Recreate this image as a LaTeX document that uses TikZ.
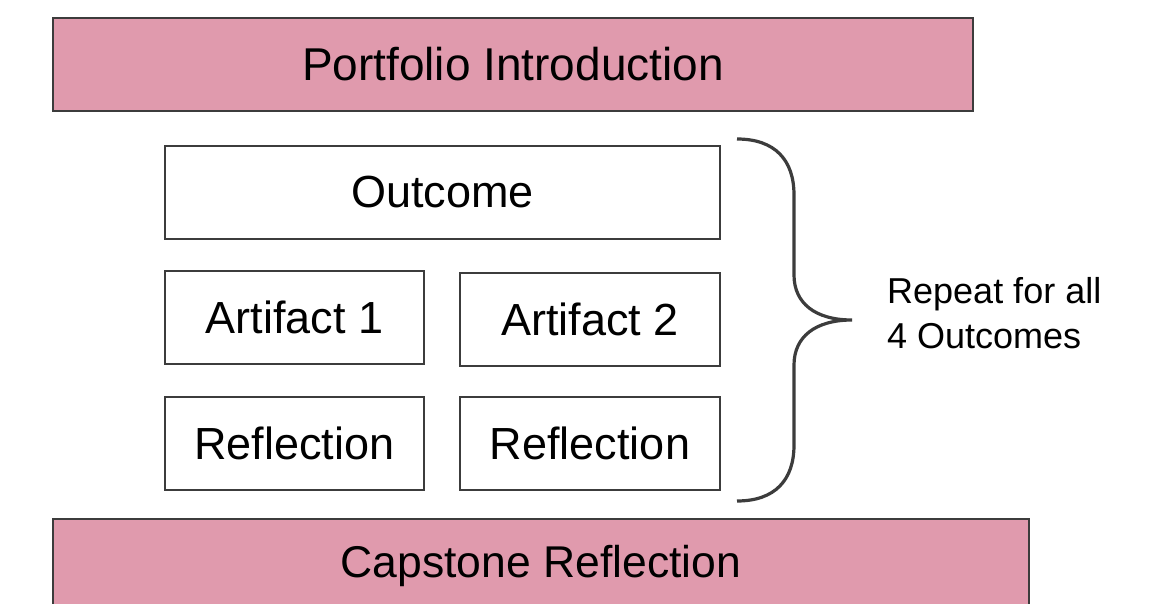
\documentclass[tikz,border=0pt]{standalone}
\usepackage{fontspec}
\setmainfont{Liberation Sans}
\usetikzlibrary{positioning}
\definecolor{rosefill}{RGB}{224,154,173}
\definecolor{edgegray}{RGB}{60,60,60}
\tikzset{
  band/.style={draw=edgegray,line width=1.5pt,fill=rosefill,minimum height=93pt,inner sep=0pt,outer sep=0pt,font=\fontsize{46}{54}\selectfont},
  card/.style={draw=edgegray,line width=1.5pt,fill=white,minimum height=93pt,inner sep=0pt,outer sep=0pt,font=\fontsize{45}{54}\selectfont}
}
\begin{document}
\begin{tikzpicture}[x=1pt,y=-1pt]
            \clip (0,0) rectangle (1149,604);
            \fill[white] (0,0) rectangle (1149,604);
            \node[band,minimum width=920pt,anchor=north west](intro) at (53,18){Portfolio Introduction};
            \node[card,minimum width=555pt](outcome)[below right=35pt and 112pt of intro.south west,anchor=north west]{Outcome};
            \node[card,minimum width=259pt](art1)[below=32pt of outcome.south west,anchor=north west]{Artifact 1};
            \node[card,minimum width=260pt](art2)[right=36pt of art1,yshift=-2pt]{Artifact 2};
            \node[card,minimum width=259pt](refl1)[below=33pt of art1]{Reflection};
            \node[card,minimum width=260pt](refl2)[right=36pt of refl1]{Reflection};
            \node[band,minimum width=976pt,font=\fontsize{44.5}{54}\selectfont](capstone)[below left=29pt and 112pt of refl1.south west,anchor=north west]{Capstone Reflection};
            \coordinate (tip) at (852,320);
            \draw[edgegray,line width=3.2pt] (737,139) .. controls (775,139) and (794,160) .. (794,195)
                -- (794,275) .. controls (794,303) and (815,320) .. (tip)
                .. controls (815,320) and (794,337) .. (794,365)
                -- (794,445) .. controls (794,480) and (775,501) .. (737,501);
            \node[align=left,inner sep=0pt,font=\fontsize{36}{45}\selectfont](note)[right=35pt of tip,yshift=6.5pt]{Repeat for all\\4 Outcomes};
        \end{tikzpicture}
\end{document}
